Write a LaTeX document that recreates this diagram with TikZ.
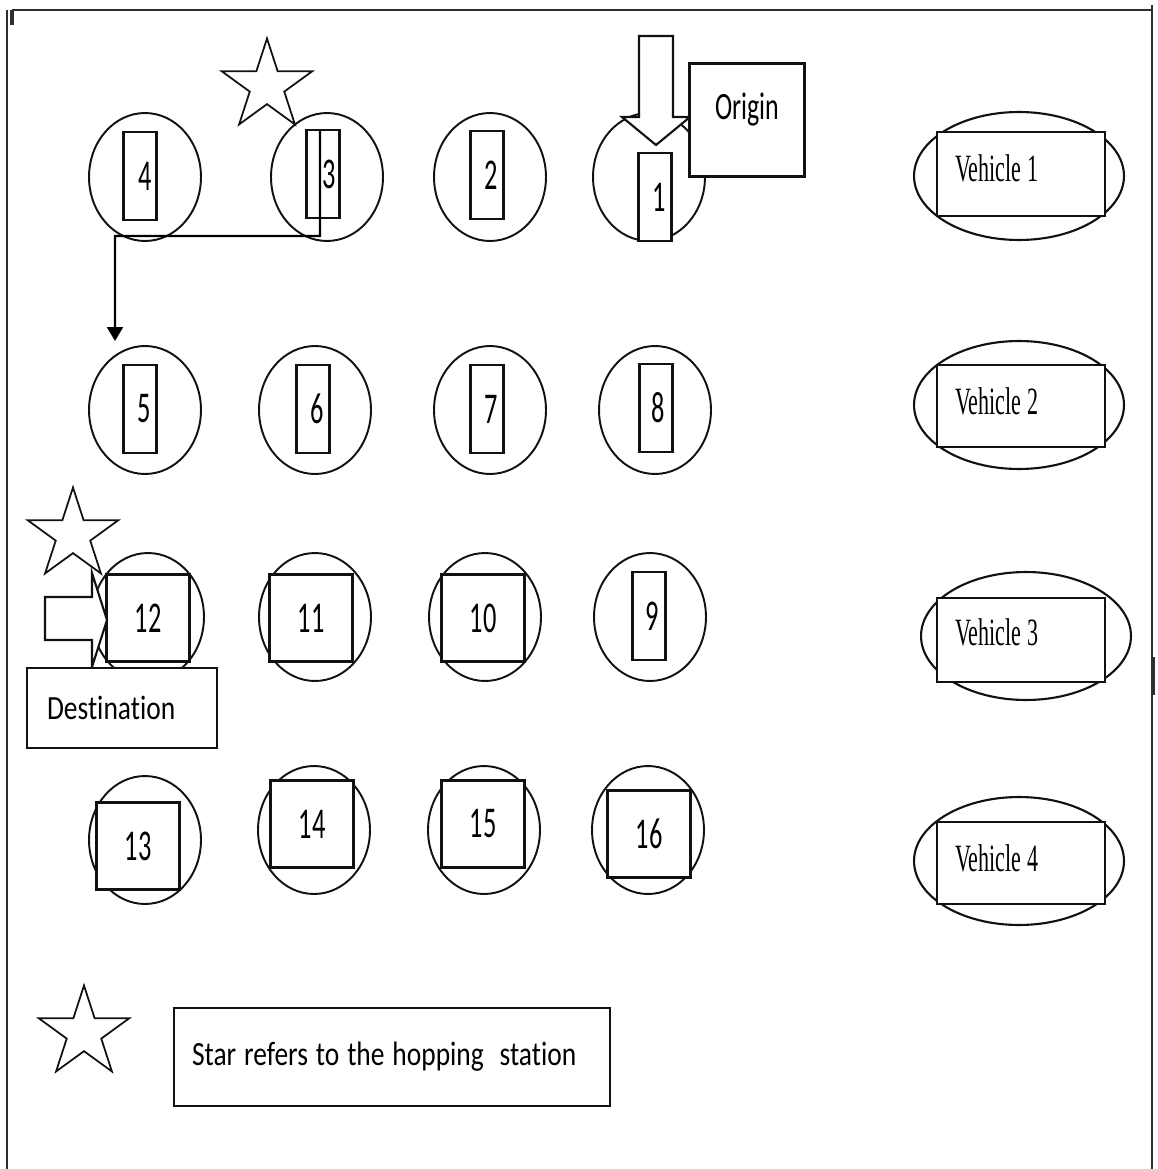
\documentclass[tikz,border=0pt]{standalone}
\usepackage{fontspec}
\setmainfont{Carlito}
\newfontfamily\numfont[FakeStretch=0.6]{Carlito}
\newfontfamily\boxfont[FakeStretch=0.81,Ligatures=NoCommon]{Carlito}
\newfontfamily\originfont[FakeStretch=0.67]{Carlito}
\newfontfamily\vehfont[FakeStretch=0.57]{Liberation Serif}
\newcommand\vehtext{\vehfont\fontsize{22pt}{24pt}\selectfont}
\newcommand\tagtext{\boxfont\fontsize{19.3pt}{22pt}\selectfont}
\newcommand\wgap{\hspace{4.5pt}}
\newcommand\vgap{\hspace{3.5pt}}
\usepackage{tikz}
\usetikzlibrary{arrows.meta,positioning,shapes.geometric}
\usepackage{xcolor}
\definecolor{hopInk}{HTML}{111111}
\definecolor{hopFrame}{HTML}{2E2E2E}
\tikzset{
  station/.style={ellipse, draw=hopInk, fill=white, line width=1.1pt, minimum width=2.24cm, minimum height=2.56cm, inner sep=0pt, outer sep=0pt},
  slot/.style={rectangle, draw=hopInk, fill=white, line width=1.3pt, minimum width=0.66cm, minimum height=1.76cm, inner sep=0pt, outer sep=0pt, font=\numfont\fontsize{25pt}{28pt}\selectfont},
  pad/.style={slot, minimum width=1.66cm, minimum height=1.74cm},
  fleet/.style={ellipse, draw=hopInk, fill=white, line width=1.2pt, minimum width=4.2cm, minimum height=2.56cm, inner sep=0pt, outer sep=0pt},
  fleetbox/.style={rectangle, draw=hopInk, fill=white, line width=1.4pt, minimum width=3.36cm, minimum height=1.68cm, text width=2.64cm, inner xsep=0.36cm, inner ysep=0pt, align=left, outer sep=0pt, font=\vehtext},
  hopstar/.style={star, star points=5, star point ratio=2.618, draw=hopInk, fill=white, line width=1pt, minimum size=1.9cm, inner sep=0pt, outer sep=0pt},
  tagbox/.style={rectangle, draw=hopInk, fill=white, line width=1.3pt, inner ysep=0pt, outer sep=0pt, align=left, font=\tagtext},
  blockarrow/.style={draw=hopInk, fill=white, line width=1.2pt, line join=miter},
  hoparrow/.style={-{Triangle[length=2.8mm,width=3.2mm]}, line width=1.2pt, draw=black},
  frame/.style={draw=hopFrame, line width=1.4pt}
}

\begin{document}
\begin{tikzpicture}[x=0.02cm,y=-0.02cm]
  \useasboundingbox (0,0) rectangle (1157,1169);
  \draw[frame, line width=1.7pt] (12,10) -- (1152,10);
  \draw[frame] (7,10) -- (7,1169);
  \draw[frame] (1152,5) -- (1152,1169);
  \draw[frame, line width=2.4pt] (12,10) -- (12,25);
  \draw[frame, line width=2.4pt] (1153,657) -- (1153,695);
  % row 1
  \node[station] (s4) at (145,177) {};
  \node[slot] (r4) at (140,176) {\hspace*{0.2cm}4};
  \node[station] (s3) at (327,177) {};
  \node[slot] (r3) at (323,174) {\hspace*{0.26cm}3};
  \node[station] (s2) at (490,177) {};
  \node[slot] (r2) at (487,175) {\hspace*{0.16cm}2};
  \node[station] (s1) at (649,177) {};
  \node[slot] (r1) at (655,197) {\hspace*{0.16cm}1};
  % row 2
  \node[station] (s5) at (145,410) {};
  \node[slot] (r5) at (140,409) {\hspace*{0.16cm}5};
  \node[station] (s6) at (315,410) {};
  \node[slot] (r6) at (313,409) {\hspace*{0.16cm}6};
  \node[station] (s7) at (490,410) {};
  \node[slot] (r7) at (487,409) {\hspace*{0.16cm}7};
  \node[station] (s8) at (655,410) {};
  \node[slot] (r8) at (656,408) {\hspace*{0.1cm}8};
  % row 3
  \node[station] (s12) at (148,617) {};
  \node[pad] (r12) at (148,618) {12};
  \node[station] (s11) at (315,617) {};
  \node[pad] (r11) at (311,618) {11};
  \node[station] (s10) at (485,617) {};
  \node[pad] (r10) at (483,618) {10};
  \node[station] (s9) at (650,617) {};
  \node[slot] (r9) at (649,616) {\hspace*{0.14cm}9};
  % row 4
  \node[station] (s13) at (145,840) {};
  \node[pad] (r13) at (138,846) {13};
  \node[station] (s14) at (314,830) {};
  \node[pad] (r14) at (312,824) {14};
  \node[station] (s15) at (484,830) {};
  \node[pad] (r15) at (483,824) {15};
  \node[station] (s16) at (648,830) {};
  \node[pad] (r16) at (649,834) {16};
  % vehicles
  \node[fleet] (v1) at (1019,176) {};
  \node[fleetbox] (vb1) at (1021,174) {\raisebox{0.24cm}{Vehicle\vgap 1}};
  \node[fleet] (v2) at (1019,405) {};
  \node[fleetbox, minimum height=1.64cm] (vb2) at (1021,406) {\raisebox{0.2cm}{Vehicle\vgap 2}};
  \node[fleet] (v3) at (1026,636) {};
  \node[fleetbox] (vb3) at (1021,640) {\raisebox{0.3cm}{Vehicle\vgap 3}};
  \node[fleet] (v4) at (1019,861) {};
  \node[fleetbox, minimum height=1.64cm] (vb4) at (1021,863) {\raisebox{0.2cm}{Vehicle\vgap 4}};
  % origin and destination
  \draw[blockarrow] (639,36) -- (673,36) -- (673,117) -- (690,117) -- (656,145) -- (622,117) -- (639,117) -- cycle;
  \node[tagbox, minimum width=2.3cm, minimum height=2.26cm, inner xsep=0pt, align=center, font=\originfont\fontsize{22pt}{24pt}\selectfont] (origin) at (747,120) {\raisebox{0.56cm}{Origin}};
  \node[hopstar] (star12) at (73,535) {};
  \draw[blockarrow] (45,597) -- (92,597) -- (92,573) -- (107,620) -- (92,667) -- (92,640) -- (45,640) -- cycle;
  \node[tagbox, minimum width=3.8cm, minimum height=1.6cm, text width=3.0cm, inner xsep=0.4cm] (dest) at (122,708) {\mbox{Destination}};
  % hopping station
  \node[hopstar] (star3) at (267,86) {};
  \coordinate (hopturn) at (115,236);
  \draw[hoparrow] ([xshift=-0.06cm]r3.north) |- (hopturn) -- ([xshift=-0.6cm,yshift=0.1cm]s5.north);
  % legend
  \node[hopstar] (starkey) at (84,1033) {};
  \node[tagbox, minimum width=8.72cm, minimum height=1.96cm, text width=8.0cm, inner xsep=0.36cm] (legend) at (392,1057) {\mbox{Star\wgap refers\wgap to\wgap the\wgap hopping\hspace{9pt}station}};
\end{tikzpicture}
\end{document}
